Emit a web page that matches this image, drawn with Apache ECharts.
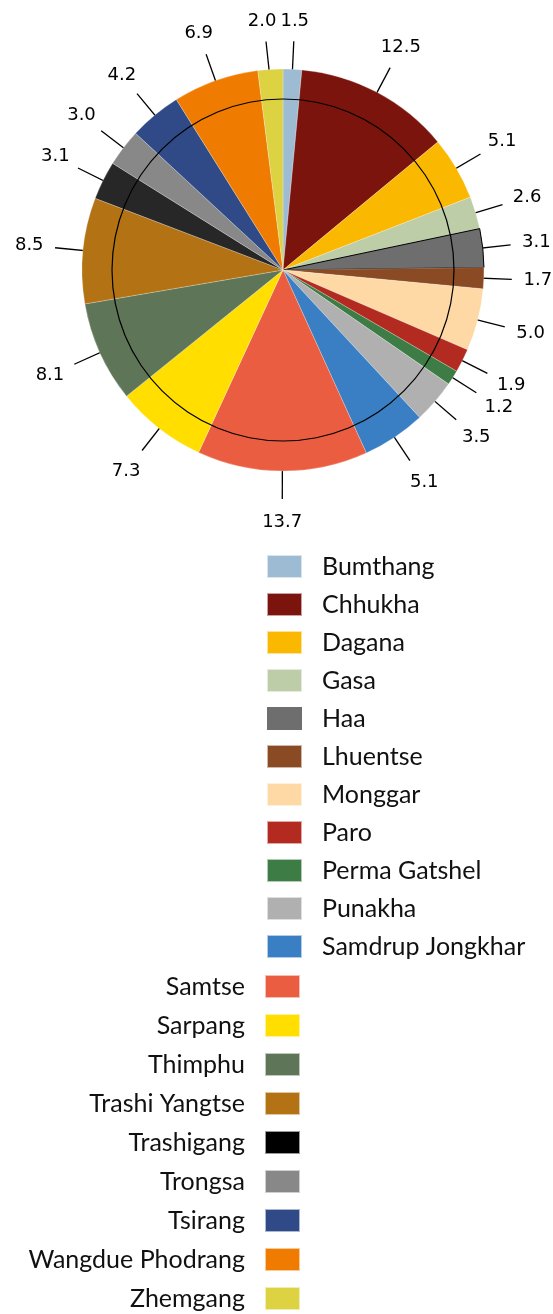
<!DOCTYPE html>
<html>
<head>
    <meta charset="utf-8">
    <title>Bhutan districts pie</title>
    <script src="https://cdn.jsdelivr.net/npm/echarts@6/dist/echarts.min.js"></script>
    <style>
        html, body { margin: 0; padding: 0; background: #fff; }
    </style>
</head>
<body>
    <div id="main" style="width: 553px;height:1314px;"></div>
    <script type="text/javascript">
        // districts, clockwise from 12 o'clock
        var districts = ['Bumthang', 'Chhukha', 'Dagana', 'Gasa', 'Haa', 'Lhuentse', 'Monggar', 'Paro',
            'Perma Gatshel', 'Punakha', 'Samdrup Jongkhar', 'Samtse', 'Sarpang', 'Thimphu',
            'Trashi Yangtse', 'Trashigang', 'Trongsa', 'Tsirang', 'Wangdue Phodrang', 'Zhemgang'];
        var shares = [1.5, 12.5, 5.1, 2.6, 3.1, 1.7, 5.0, 1.9, 1.2, 3.5, 5.1, 13.7, 7.3, 8.1, 8.5, 3.1, 3.0, 4.2, 6.9, 2.0];
        var colors = ['#9dbcd4', '#7a140c', '#fbb800', '#bccda7', '#6e6e6e', '#8a4a23', '#fed9a6', '#b22a20',
            '#3d7d45', '#b0b0b0', '#3a7fc3', '#eb5d40', '#ffde00', '#5e7657', '#b37315', '#272727',
            '#888888', '#2f4a87', '#ef7b00', '#dcd242'];
        // legend is split in two blocks
        var legendRight = districts.slice(0, 11);
        var legendLeft = districts.slice(11);

        var myChart = echarts.init(document.getElementById('main'));

        var pieData = [];
        var labelData = [];
        for (var i = 0; i < districts.length; i++) {
            var item = { name: districts[i], value: shares[i], itemStyle: { color: colors[i] } };
            if (districts[i] === 'Haa') {
                item.itemStyle.borderColor = '#000';
                item.itemStyle.borderWidth = 1;
            }
            pieData.push(item);
            labelData.push({ value: shares[i] });
        }

        var legendText = {
            fontFamily: 'Lato',
            fontSize: 25,
            color: '#111',
            lineHeight: 23
        };

        // label boxes already placed, to push apart the two labels at 12 o'clock
        var placed = [];

        var option = {
            animation: false,
            legend: [{
                orient: 'vertical',
                left: 266,
                top: 554,
                height: 500,
                padding: 0,
                align: 'left',
                itemWidth: 35,
                itemHeight: 23,
                itemGap: 13,
                icon: 'rect',
                selectedMode: false,
                data: legendRight.map(function (n) {
                    return n === 'Haa' ? { name: n, itemStyle: { borderWidth: 0 } } : n;
                }),
                textStyle: Object.assign({ padding: [0, 0, 0, 15] }, legendText)
            }, {
                orient: 'vertical',
                right: 252,
                top: 974,
                height: 500,
                padding: 0,
                align: 'right',
                itemWidth: 35,
                itemHeight: 23,
                itemGap: 14,
                icon: 'rect',
                selectedMode: false,
                data: legendLeft.map(function (n) {
                    return n === 'Trashigang' ? { name: n, itemStyle: { color: '#000' } } : n;
                }),
                textStyle: Object.assign({ padding: [0, 15, 0, 0] }, legendText)
            }],
            series: [{
                type: 'pie',
                center: [283, 270],
                radius: [0, 201],
                startAngle: 90,
                silent: true,
                label: { show: false },
                labelLine: { show: false },
                itemStyle: { borderColor: 'rgba(255,255,255,0.6)', borderWidth: 0.4 },
                data: pieData
            }, {
                // the thin circle inside the pie
                type: 'pie',
                center: [283, 270],
                radius: [170.4, 171.6],
                silent: true,
                label: { show: false },
                labelLine: { show: false },
                itemStyle: { color: '#000' },
                data: [1]
            }, {
                // invisible copy used for the value labels
                type: 'pie',
                center: [283, 270],
                radius: [0, 171],
                startAngle: 90,
                silent: true,
                avoidLabelOverlap: false,
                itemStyle: { color: 'rgba(0,0,0,0)' },
                label: {
                    show: true,
                    position: 'outside',
                    color: '#000',
                    fontFamily: 'DejaVu Sans',
                    fontSize: 18,
                    formatter: function (p) { return p.value.toFixed(1); }
                },
                labelLine: {
                    show: true,
                    length: 58,
                    length2: 0,
                    smooth: false,
                    lineStyle: { color: '#000', width: 1.3 }
                },
                labelLayout: function (params) {
                    var pts = params.labelLinePoints;
                    if (!pts) return {};
                    if (params.dataIndex === 0) placed = [];
                    var a = pts[0], b = pts[pts.length - 1];
                    var dx = b[0] - a[0], dy = b[1] - a[1];
                    var len = Math.sqrt(dx * dx + dy * dy) || 1;
                    dx /= len; dy /= len;
                    var d = 20 + 6 * Math.abs(dx) + (dy > 0 ? 3 * dy : 0);
                    var w = params.labelRect.width, h = params.labelRect.height;
                    var x = b[0] + dx * d, y = b[1] + dy * d;
                    var ex = b[0];
                    placed.forEach(function (r) {
                        if (Math.abs(r.y - y) < (r.h + h) / 2 && Math.abs(r.x - x) < (r.w + w) / 2 + 4) {
                            var s = x < r.x ? -1 : 1;
                            var shift = (r.w + w) / 2 + 4 - Math.abs(r.x - x);
                            x += s * shift;
                            ex += s * shift / 2;
                        }
                    });
                    placed.push({ x: x, y: y, w: w, h: h });
                    return {
                        x: x,
                        y: y,
                        align: 'center',
                        verticalAlign: 'middle',
                        labelLinePoints: [a, [ex, b[1]]]
                    };
                },
                data: labelData
            }]
        };

        myChart.setOption(option);
    </script>
</body>
</html>
